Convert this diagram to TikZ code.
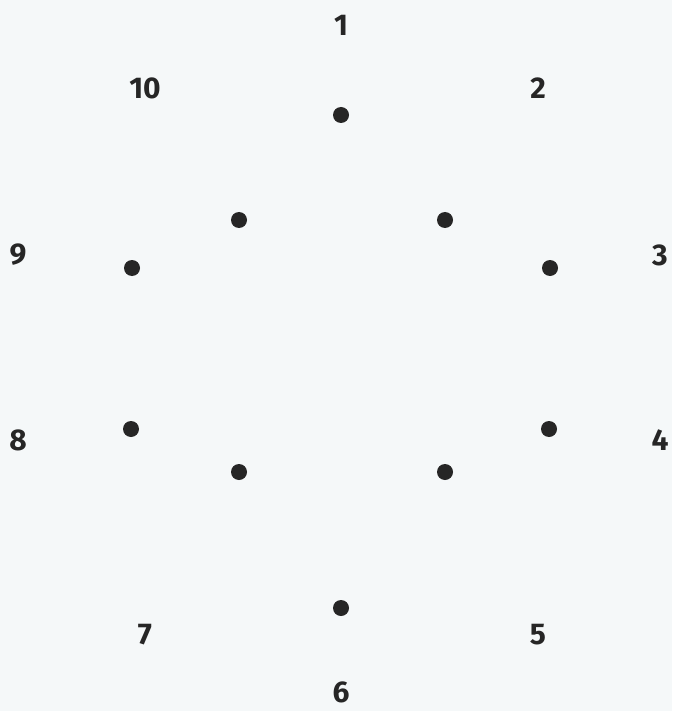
\documentclass[tikz,border=0pt]{standalone}
\usepackage{fontspec}
\setmainfont{Fira Sans}
\definecolor{bg}{HTML}{F5F8F9}
\definecolor{ink}{HTML}{262626}
\begin{document}
\begin{tikzpicture}[x=1pt,y=-1pt,
  dotmark/.style={circle,fill=ink,inner sep=0pt,minimum size=16pt},
  numlabel/.style={text=ink,font=\fontsize{30}{34}\selectfont\bfseries,inner sep=0pt}]
\fill[bg] (0,0) rectangle (672,711);
\useasboundingbox (0,0) rectangle (672,711);
\node[dotmark] (d1) at (341,115) {};
\node[dotmark] (d2) at (445,220) {};
\node[dotmark] (d3) at (550,268) {};
\node[dotmark] (d4) at (549,429) {};
\node[dotmark] (d5) at (445,472) {};
\node[dotmark] (d6) at (341,608) {};
\node[dotmark] (d7) at (239,472) {};
\node[dotmark] (d8) at (131,429) {};
\node[dotmark] (d9) at (132,268) {};
\node[dotmark] (d10) at (239,220) {};
\node[numlabel] (l1) at (341,25) {1};
\node[numlabel] (l2) at (538,88) {2};
\node[numlabel] (l3) at (660,255) {3};
\node[numlabel] (l4) at (660,440) {4};
\node[numlabel] (l5) at (538,635) {5};
\node[numlabel] (l6) at (341,692) {6};
\node[numlabel] (l7) at (145,635) {7};
\node[numlabel] (l8) at (18,440) {8};
\node[numlabel] (l9) at (18,255) {9};
\node[numlabel] (l10) at (145,88) {10};
\end{tikzpicture}
\end{document}
